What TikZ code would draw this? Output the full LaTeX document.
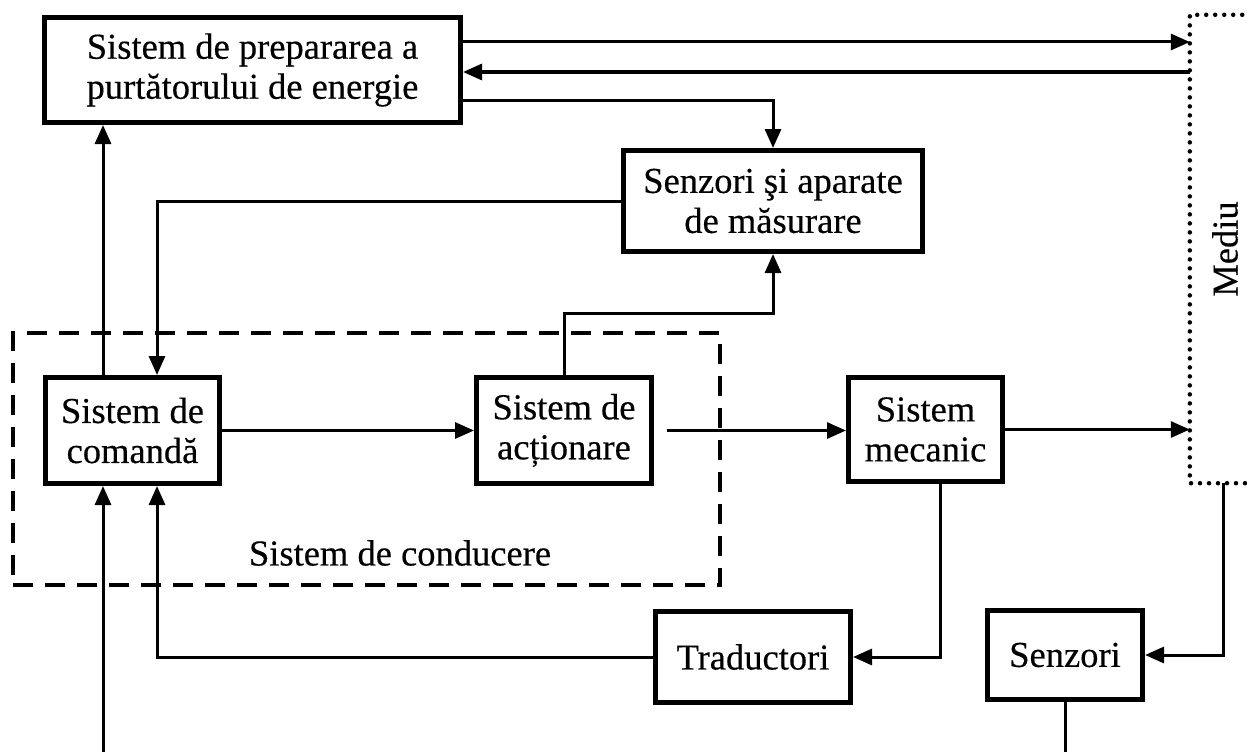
\documentclass[tikz,border=0pt]{standalone}
\usepackage{fontspec}
\setmainfont{Liberation Serif}[FakeBold=0.35]
\usetikzlibrary{arrows.meta}
\begin{document}
\begin{tikzpicture}[x=1pt,y=-1pt,
  font=\fontsize{36.5}{40}\selectfont,
  blk/.style={draw,line width=5pt,align=center,inner sep=0pt},
  link/.style={line width=3pt},
  arr/.style={link,-{Triangle[length=19pt,width=16pt]}},
  groupbox/.style={draw,line width=3.5pt,dash pattern=on 20pt off 12pt,inner sep=0pt},
  envbox/.style={line width=4.5pt,dash pattern=on 0pt off 9pt,line cap=round},
]
\useasboundingbox (0,0) rectangle (1247,752);

% blocks
\node[blk,minimum width=416pt,minimum height=105pt] (prep) at (252.5,70)
  {Sistem de prepararea a\\purtătorului de energie};
\node[blk,minimum width=299pt,minimum height=101pt] (senz) at (773,201)
  {Senzori şi aparate\\de măsurare};
\node[groupbox,minimum width=707pt,minimum height=252pt] (cond) at (366.5,459) {};
\node (condlbl) at (400,553) {Sistem de conducere};
\node[blk,minimum width=174pt,minimum height=106pt] (cmd) at (132.5,430.5)
  {Sistem de\\comandă};
\node[blk,minimum width=175pt,minimum height=106pt] (act) at (564,430.5)
  {Sistem de\\acționare};
\node[blk,minimum width=154pt,minimum height=104pt] (mec) at (925.5,429.5)
  {Sistem\\mecanic};
\node[blk,minimum width=195pt,minimum height=91pt] (trad) at (753,657) {Traductori};
\node[blk,minimum width=155pt,minimum height=89pt] (senz2) at (1065,655) {Senzori};

% environment (open towards the right edge)
\node[minimum width=70pt,minimum height=468pt,inner sep=0pt] (mediu) at (1225,249)
  {\rotatebox{90}{Mediu}};
\draw[envbox] (mediu.north east) -- (mediu.north west) -- (mediu.south west)
  -- (mediu.south east);

% routing helpers
\coordinate (r42) at (0,42);
\coordinate (r72) at (0,72);
\coordinate (r100) at (0,100);
\coordinate (r313) at (0,313);
\coordinate (c103) at (103,0);
\coordinate (c157) at (157,0);
\coordinate (c940) at (940,0);
\coordinate (c1223) at (1223,0);
\coordinate (bl) at (103,752);
\coordinate (bot) at (0,752);

% connectors
\draw[arr] (prep.east |- r42) -- (mediu.west |- r42);
\draw[arr] (mediu.west |- r72) -- (prep.east |- r72);
\draw[arr] (prep.east |- r100) -| (senz.north);
\draw[arr] (senz.west) -| (cmd.north -| c157);
\draw[arr] (cmd.north -| c103) -- (prep.south -| c103);
\draw[arr] (act.north) -- (act.north |- r313) -| (senz.south);
\draw[arr] (cmd.east) -- (act.west);
\draw[arr] ([xshift=13pt]act.east) -- (act.east -| mec.west);
\draw[arr] (mec.east) -- (mec.east -| mediu.west);
\draw[arr] (mec.south -| c940) |- (trad.east);
\draw[arr] (trad.west) -| (cmd.south -| c157);
\draw[arr] (bl) -- (cmd.south -| bl);
\draw[arr] (mediu.south -| c1223) |- (senz2.east);
\draw[link] (senz2.south) -- (senz2.south |- bot);
\end{tikzpicture}
\end{document}
